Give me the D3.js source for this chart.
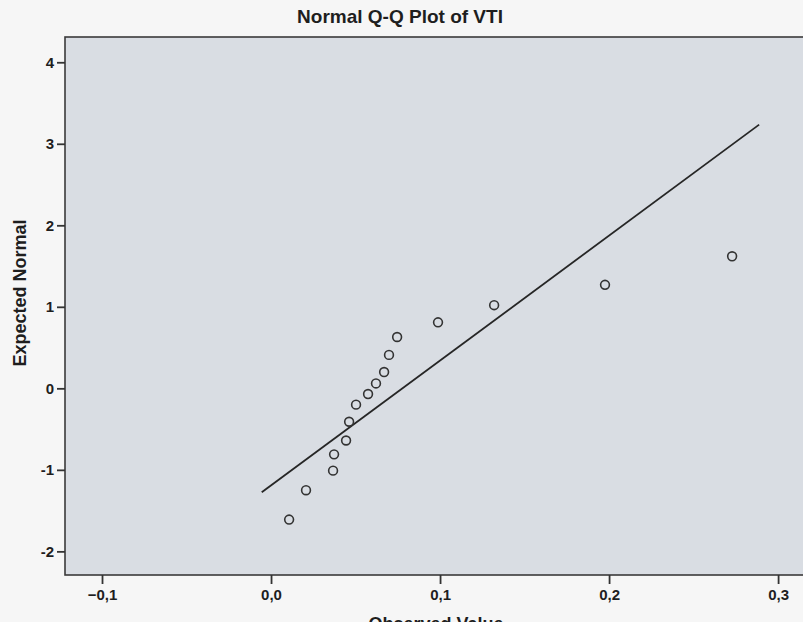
<!DOCTYPE html>
<html>
<head>
<meta charset="utf-8">
<script src="https://cdn.jsdelivr.net/npm/d3@7"></script>
<style>
  body { margin: 0; background: #f6f6f6; }
  svg { display: block; }
  text { font-family: 'Liberation Sans', Arial, sans-serif; font-weight: bold; fill: #1e1e1e; }
</style>
</head>
<body>
<div id="chart"></div>
<script>
// Data
var observed = [0.0107, 0.0207, 0.0367, 0.0373, 0.0444, 0.0462, 0.0503, 0.0574,
                0.0621, 0.0669, 0.0698, 0.0746, 0.0988, 0.132, 0.1976, 0.2728]
var expected = [-1.61, -1.25, -1.01, -0.81, -0.64, -0.41, -0.20, -0.07,
                0.06, 0.20, 0.41, 0.63, 0.81, 1.02, 1.27, 1.62]
// reference line end points
var lineX = [-0.0055, 0.2888]
var lineY = [-1.276, 3.235]

var xTicks = [-0.1, 0.0, 0.1, 0.2, 0.3]
var yTicks = [-2, -1, 0, 1, 2, 3, 4]

var width = 803, height = 622
var plot = { left: 65, top: 37, right: 808, bottom: 575 }

var svg = d3.select('#chart').append('svg')
  .attr('width', width)
  .attr('height', height)

var x = d3.scaleLinear().domain([-0.1219, 0.3177]).range([plot.left, plot.right])
var y = d3.scaleLinear().domain([-2.29, 4.31]).range([plot.bottom, plot.top])

// plot area
svg.append('rect')
  .attr('x', plot.left)
  .attr('y', plot.top)
  .attr('width', plot.right - plot.left)
  .attr('height', plot.bottom - plot.top)
  .attr('fill', '#d9dde3')
  .attr('stroke', '#3a3a3a')
  .attr('stroke-width', 1.6)

var fmt = function(d){ return d3.format('.1f')(d).replace('.', ',').replace('-0,0', '0,0') }

var xAxis = svg.append('g')
  .attr('transform', 'translate(0,' + plot.bottom + ')')
  .call(d3.axisBottom(x).tickValues(xTicks).tickFormat(fmt).tickSize(9).tickPadding(5))
var yAxis = svg.append('g')
  .attr('transform', 'translate(' + plot.left + ',0)')
  .call(d3.axisLeft(y).tickValues(yTicks).tickFormat(d3.format('d')).tickSize(8).tickPadding(3))

;[xAxis, yAxis].forEach(function(a){
  a.attr('font-size', 15).attr('font-family', null)
  a.select('.domain').remove()
  a.selectAll('.tick line').attr('stroke', '#333').attr('stroke-width', 1.8)
  a.selectAll('.tick text').attr('fill', '#222')
})
yAxis.selectAll('.tick text').text(function(d){ return d < 0 ? '-' + Math.abs(d) : d })

// reference line
svg.append('line')
  .attr('x1', x(lineX[0])).attr('y1', y(lineY[0]))
  .attr('x2', x(lineX[1])).attr('y2', y(lineY[1]))
  .attr('stroke', '#262626')
  .attr('stroke-width', 1.8)

// points
svg.selectAll('circle.pt')
  .data(observed)
  .enter().append('circle')
  .attr('class', 'pt')
  .attr('cx', function(d){ return x(d) })
  .attr('cy', function(d, i){ return y(expected[i]) })
  .attr('r', 4.4)
  .attr('fill', 'none')
  .attr('stroke', '#333')
  .attr('stroke-width', 1.6)

// title
svg.append('text')
  .attr('x', 400)
  .attr('y', 23)
  .attr('text-anchor', 'middle')
  .attr('font-size', 19)
  .text('Normal Q-Q Plot of VTI')

// axis titles
svg.append('text')
  .attr('transform', 'translate(26,' + 293 + ') rotate(-90)')
  .attr('text-anchor', 'middle')
  .attr('font-size', 18)
  .text('Expected Normal')

svg.append('text')
  .attr('x', 436)
  .attr('y', 630)
  .attr('text-anchor', 'middle')
  .attr('font-size', 18)
  .text('Observed Value')
</script>
</body>
</html>
